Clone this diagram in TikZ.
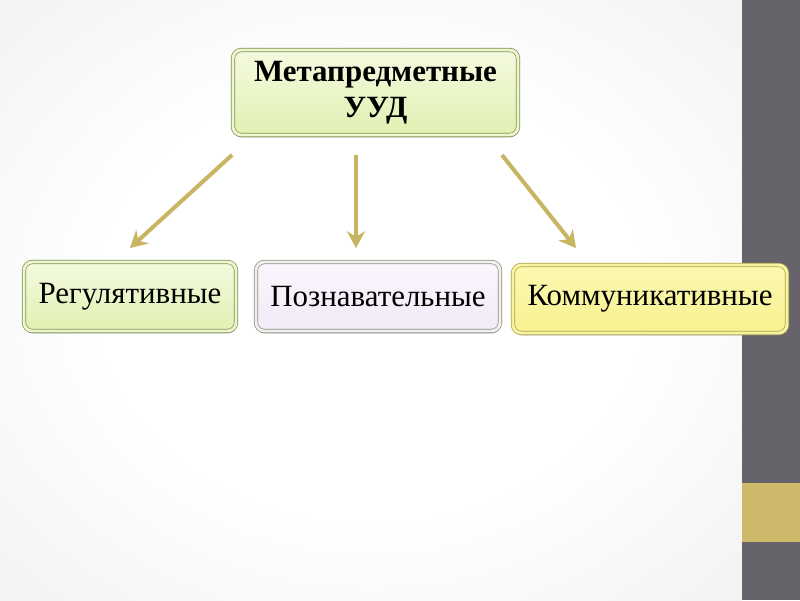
\documentclass[tikz,border=0pt]{standalone}
\usepackage{fontspec}
\setmainfont{Liberation Serif}
\usetikzlibrary{arrows.meta, shadows}
\definecolor{mygreenborder}{HTML}{7F9450}
\definecolor{mygreentop}{HTML}{F4FADF}
\definecolor{mygreenbottom}{HTML}{E1F0B2}
\definecolor{mygreenband}{HTML}{EDF6CF}
\definecolor{mylilacborder}{HTML}{8E8D78}
\definecolor{mylilactop}{HTML}{FAF6FD}
\definecolor{mylilacbottom}{HTML}{F1EAF8}
\definecolor{mylilacband}{HTML}{F2EFF3}
\definecolor{myyellowborder}{HTML}{ABA34A}
\definecolor{myyellowtop}{HTML}{FCF9B0}
\definecolor{myyellowbottom}{HTML}{F7F190}
\definecolor{myyellowband}{HTML}{F7F3A2}
\definecolor{myarrow}{HTML}{C9B462}
\definecolor{mybar}{HTML}{67636A}
\definecolor{myolive}{HTML}{CDB96A}
\pgfdeclareradialshading{bgglow}{\pgfpoint{0bp}{0bp}}{color(0bp)=(white); color(18bp)=(white); color(50bp)=(black!9); color(71bp)=(black!13)}
\tikzset{
box/.style={
rounded corners=6pt,
line width=0.5pt,
double distance=2pt,
align=center,
inner sep=0pt,
font=\fontsize{22}{26}\selectfont,
drop shadow={shadow xshift=0.3pt, shadow yshift=-1.8pt, opacity=0.4}
},
boxGreen/.style={
box,
draw=mygreenborder,
double=mygreenband,
top color=mygreentop,
bottom color=mygreenbottom
},
boxLilac/.style={
box,
draw=mylilacborder,
double=mylilacband,
top color=mylilactop,
bottom color=mylilacbottom
},
boxYellow/.style={
box,
draw=myyellowborder,
double=myyellowband,
top color=myyellowtop,
bottom color=myyellowbottom
},
link/.style={
-{Stealth[length=4.2mm,width=4.6mm,inset=1.4mm]},
line width=1mm,
draw=myarrow
}
}

\begin{document}
\begin{tikzpicture}[x=0.25mm,y=-0.25mm]
% slide background
\shade[shading=bgglow] (0,0) rectangle (742,600);
\fill[mybar] (742,0) rectangle (800,600);
\fill[myolive] (742,483) rectangle (800,542);

\node[boxGreen, minimum width=71.25mm, minimum height=21.25mm, font=\fontsize{22}{26}\selectfont\bfseries]
  (meta) at (375.5,92.5) {Метапредметные\\УУД};

\node[boxGreen, minimum width=53mm, minimum height=17.25mm] (reg) at (130,296.5) {Регулятивные};
\node[boxLilac, minimum width=61mm, minimum height=17.25mm] (poz) at (378,296.5) {Познавательные};
\node[boxYellow, minimum width=68.5mm, minimum height=17mm] (kom) at (650,299) {Коммуникативные};

\coordinate (regTop) at (130,248);
\coordinate (pozTop) at (356,248);
\coordinate (komTop) at (576,248);
\coordinate (metaL) at (232,155);
\coordinate (metaM) at (356,155);
\coordinate (metaR) at (502,155);

\draw[link] (metaL) -- (regTop);
\draw[link] (metaM) -- (pozTop);
\draw[link] (metaR) -- (komTop);

\end{tikzpicture}
\end{document}
